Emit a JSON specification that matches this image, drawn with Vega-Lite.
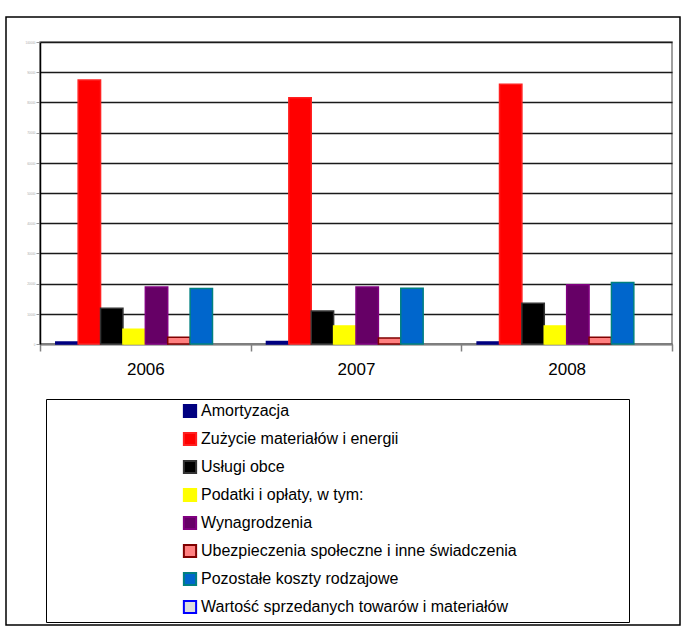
{
  "$schema": "https://vega.github.io/schema/vega-lite/v6.json",
  "width": 632,
  "height": 302,
  "autosize": {"type": "none"},
  "padding": {"left": 40, "top": 42, "right": 9, "bottom": 284},
  "background": "white",
  "config": {
    "font": "Liberation Sans",
    "view": {"stroke": "#808080", "strokeWidth": 1.5}
  },
  "data": {
    "values": [
      {"year": "2006", "series": "Amortyzacja", "value": 700},
      {"year": "2006", "series": "Zużycie materiałów i energii", "value": 87400},
      {"year": "2006", "series": "Usługi obce", "value": 11800},
      {"year": "2006", "series": "Podatki i opłaty, w tym:", "value": 4900},
      {"year": "2006", "series": "Wynagrodzenia", "value": 18900},
      {"year": "2006", "series": "Ubezpieczenia społeczne i inne świadczenia", "value": 2200},
      {"year": "2006", "series": "Pozostałe koszty rodzajowe", "value": 18400},
      {"year": "2006", "series": "Wartość sprzedanych towarów i materiałów", "value": 0},
      {"year": "2007", "series": "Amortyzacja", "value": 800},
      {"year": "2007", "series": "Zużycie materiałów i energii", "value": 81500},
      {"year": "2007", "series": "Usługi obce", "value": 10900},
      {"year": "2007", "series": "Podatki i opłaty, w tym:", "value": 6000},
      {"year": "2007", "series": "Wynagrodzenia", "value": 18900},
      {"year": "2007", "series": "Ubezpieczenia społeczne i inne świadczenia", "value": 2000},
      {"year": "2007", "series": "Pozostałe koszty rodzajowe", "value": 18500},
      {"year": "2007", "series": "Wartość sprzedanych towarów i materiałów", "value": 0},
      {"year": "2008", "series": "Amortyzacja", "value": 700},
      {"year": "2008", "series": "Zużycie materiałów i energii", "value": 86000},
      {"year": "2008", "series": "Usługi obce", "value": 13500},
      {"year": "2008", "series": "Podatki i opłaty, w tym:", "value": 6000},
      {"year": "2008", "series": "Wynagrodzenia", "value": 19600},
      {"year": "2008", "series": "Ubezpieczenia społeczne i inne świadczenia", "value": 2200},
      {"year": "2008", "series": "Pozostałe koszty rodzajowe", "value": 20400},
      {"year": "2008", "series": "Wartość sprzedanych towarów i materiałów", "value": 0}
    ]
  },
  "layer": [
    {
      "data": {"values": [{}]},
      "mark": {"type": "rect", "fill": null, "stroke": "black", "strokeWidth": 1.5},
      "encoding": {
        "x": {"value": -34},
        "x2": {"value": 640},
        "y": {"value": -25},
        "y2": {"value": 583}
      }
    },
    {
      "mark": {"type": "bar", "strokeWidth": 1.5},
      "encoding": {
        "x": {
          "field": "year",
          "type": "nominal",
          "scale": {"paddingInner": 0, "paddingOuter": 0},
          "axis": {
            "title": null,
            "labelAngle": 0,
            "labelFontSize": 17,
            "labelColor": "#000",
            "tickBand": "extent",
            "tickSize": 7,
            "tickColor": "#808080",
            "tickWidth": 1.5,
            "domainColor": "#808080",
            "domainWidth": 1.5,
            "labelPadding": 10
          }
        },
        "y": {
          "field": "value",
          "type": "quantitative",
          "scale": {"domain": [0, 100000], "nice": false},
          "axis": {
            "title": null,
            "values": [0, 10000, 20000, 30000, 40000, 50000, 60000, 70000, 80000, 90000, 100000],
            "format": "d",
            "grid": true,
            "gridColor": "#1a1a1a",
            "gridWidth": 1.5,
            "domainColor": "#000",
            "domainWidth": 1.5,
            "tickSize": 4,
            "tickColor": "#999",
            "labelFontSize": 3,
            "labelColor": "#aaa",
            "labelPadding": 1
          }
        },
        "xOffset": {
          "field": "series",
          "type": "nominal",
          "sort": ["Amortyzacja", "Zużycie materiałów i energii", "Usługi obce", "Podatki i opłaty, w tym:", "Wynagrodzenia", "Ubezpieczenia społeczne i inne świadczenia", "Pozostałe koszty rodzajowe", "Wartość sprzedanych towarów i materiałów"],
          "scale": {"paddingInner": 0, "paddingOuter": 0.705}
        },
        "strokeOpacity": {
          "condition": {"test": "datum.value === 0", "value": 0},
          "value": 1
        },
        "fill": {
          "field": "series",
          "type": "nominal",
          "sort": ["Amortyzacja", "Zużycie materiałów i energii", "Usługi obce", "Podatki i opłaty, w tym:", "Wynagrodzenia", "Ubezpieczenia społeczne i inne świadczenia", "Pozostałe koszty rodzajowe", "Wartość sprzedanych towarów i materiałów"],
          "scale": {
            "domain": ["Amortyzacja", "Zużycie materiałów i energii", "Usługi obce", "Podatki i opłaty, w tym:", "Wynagrodzenia", "Ubezpieczenia społeczne i inne świadczenia", "Pozostałe koszty rodzajowe", "Wartość sprzedanych towarów i materiałów"],
            "range": ["#000080", "#FF0000", "#000000", "#FFFF00", "#660066", "#FF8080", "#0066CC", "#DDDDDD"]
          },
          "legend": {
            "orient": "none",
            "legendX": 6,
            "legendY": 357,
            "title": " ",
            "titleOrient": "right",
            "titlePadding": 108,
            "titleFontSize": 4,
            "fillColor": "white",
            "strokeColor": "#000",
            "padding": 4,
            "symbolType": "square",
            "symbolSize": 150,
            "symbolStrokeWidth": 2,
            "symbolOpacity": 1,
            "labelFontSize": 16,
            "labelColor": "#000",
            "labelLimit": 0,
            "rowPadding": 6,
            "symbolOffset": 132,
            "labelOffset": 3
          }
        },
        "stroke": {
          "field": "series",
          "type": "nominal",
          "sort": ["Amortyzacja", "Zużycie materiałów i energii", "Usługi obce", "Podatki i opłaty, w tym:", "Wynagrodzenia", "Ubezpieczenia społeczne i inne świadczenia", "Pozostałe koszty rodzajowe", "Wartość sprzedanych towarów i materiałów"],
          "scale": {
            "domain": ["Amortyzacja", "Zużycie materiałów i energii", "Usługi obce", "Podatki i opłaty, w tym:", "Wynagrodzenia", "Ubezpieczenia społeczne i inne świadczenia", "Pozostałe koszty rodzajowe", "Wartość sprzedanych towarów i materiałów"],
            "range": ["#000080", "#FF2020", "#333333", "#FFFF00", "#800080", "#800000", "#008080", "#0000FF"]
          },
          "legend": {
            "orient": "none",
            "legendX": 6,
            "legendY": 357,
            "title": " ",
            "titleOrient": "right",
            "titlePadding": 108,
            "titleFontSize": 4,
            "fillColor": "white",
            "strokeColor": "#000",
            "padding": 4,
            "symbolType": "square",
            "symbolSize": 150,
            "symbolStrokeWidth": 2,
            "symbolOpacity": 1,
            "labelFontSize": 16,
            "labelColor": "#000",
            "labelLimit": 0,
            "rowPadding": 6,
            "symbolOffset": 132,
            "labelOffset": 3
          }
        }
      }
    }
  ]
}
